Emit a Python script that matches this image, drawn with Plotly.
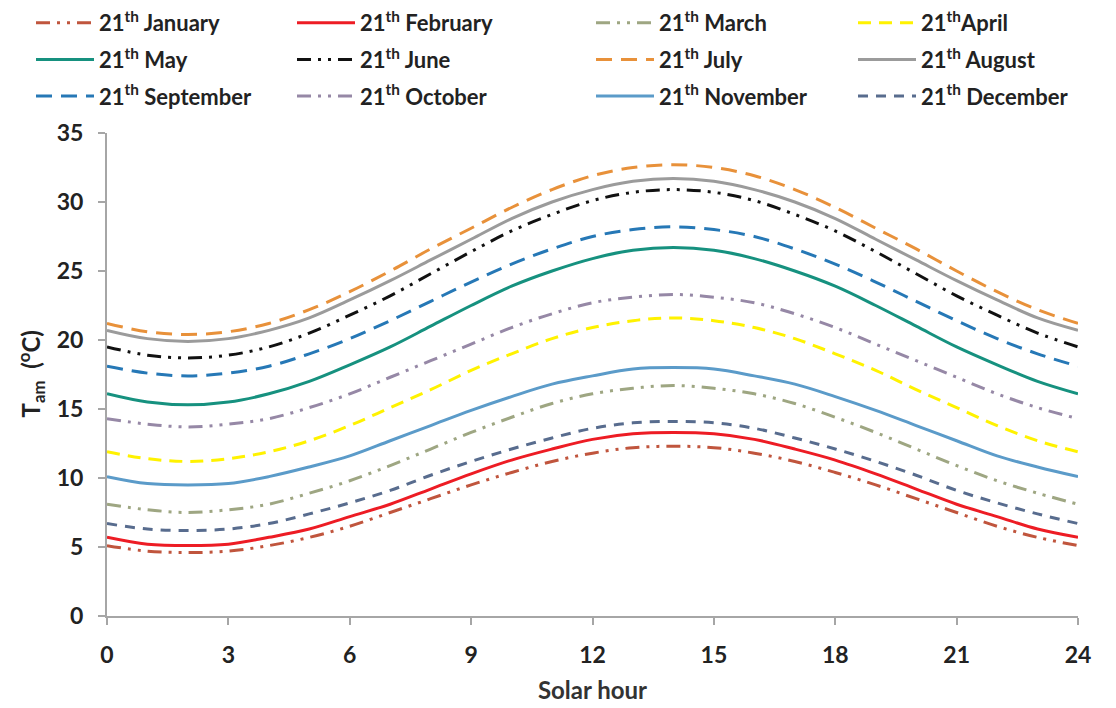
import plotly.graph_objects as go

hours = list(range(0, 25))

jan = [5.1,4.7,4.6,4.7,5.1,5.7,6.5,7.5,8.5,9.5,10.4,11.2,11.8,12.2,12.3,12.2,11.8,11.2,10.4,9.5,8.5,7.5,6.5,5.7,5.1]
feb = [5.7,5.2,5.1,5.2,5.7,6.3,7.2,8.1,9.2,10.3,11.3,12.1,12.8,13.2,13.3,13.2,12.8,12.1,11.3,10.3,9.2,8.1,7.2,6.3,5.7]
mar = [8.1,7.7,7.5,7.7,8.1,8.9,9.8,10.9,12.1,13.3,14.4,15.4,16.1,16.5,16.7,16.5,16.1,15.4,14.4,13.3,12.1,10.9,9.8,8.9,8.1]
apr = [11.9,11.4,11.2,11.4,11.9,12.7,13.8,15.1,16.4,17.8,19.0,20.1,20.9,21.4,21.6,21.4,20.9,20.1,19.0,17.8,16.4,15.1,13.8,12.7,11.9]
may = [16.1,15.5,15.3,15.5,16.1,17.0,18.2,19.5,21.0,22.5,23.9,25.0,25.9,26.5,26.7,26.5,25.9,25.0,23.9,22.5,21.0,19.5,18.2,17.0,16.1]
jun = [19.5,18.9,18.7,18.9,19.5,20.5,21.8,23.2,24.8,26.4,27.9,29.1,30.1,30.7,30.9,30.7,30.1,29.1,27.9,26.4,24.8,23.2,21.8,20.5,19.5]
jul = [21.2,20.6,20.4,20.6,21.2,22.2,23.5,25.0,26.6,28.1,29.6,30.9,31.9,32.5,32.7,32.5,31.9,30.9,29.6,28.1,26.6,25.0,23.5,22.2,21.2]
aug = [20.7,20.1,19.9,20.1,20.7,21.6,22.9,24.3,25.8,27.3,28.8,30.0,30.9,31.5,31.7,31.5,30.9,30.0,28.8,27.3,25.8,24.3,22.9,21.6,20.7]
sep = [18.1,17.6,17.4,17.6,18.1,19.0,20.1,21.4,22.8,24.2,25.5,26.6,27.5,28.0,28.2,28.0,27.5,26.6,25.5,24.2,22.8,21.4,20.1,19.0,18.1]
octo = [14.3,13.9,13.7,13.9,14.3,15.1,16.1,17.3,18.5,19.7,20.9,21.9,22.7,23.1,23.3,23.1,22.7,21.9,20.9,19.7,18.5,17.3,16.1,15.1,14.3]
nov = [10.1,9.6,9.5,9.6,10.1,10.8,11.6,12.7,13.8,14.9,15.9,16.8,17.4,17.9,18.0,17.9,17.4,16.8,15.9,14.9,13.8,12.7,11.6,10.8,10.1]
dec = [6.7,6.3,6.2,6.3,6.7,7.4,8.2,9.1,10.2,11.2,12.1,12.9,13.6,14.0,14.1,14.0,13.6,12.9,12.1,11.2,10.2,9.1,8.2,7.4,6.7]

names = ["21<sup>th</sup> January", "21<sup>th</sup> February", "21<sup>th</sup> March", "21<sup>th</sup>April",
         "21<sup>th</sup> May", "21<sup>th</sup> June", "21<sup>th</sup> July", "21<sup>th</sup> August",
         "21<sup>th</sup> September", "21<sup>th</sup> October", "21<sup>th</sup> November", "21<sup>th</sup> December"]
series = [jan, feb, mar, apr, may, jun, jul, aug, sep, octo, nov, dec]

ldd = "14px,7px,3px,7px,3px,7px"
colors = ["#C0553D", "#ED1C24", "#9EA682", "#FFF200",
          "#16917F", "#111111", "#E8913A", "#9B9B9B",
          "#2678B6", "#9688A6", "#5B9BC9", "#586C8E"]
dashes = [ldd, "solid", ldd, "13px,8px",
          "solid", ldd, "16px,9px", "solid",
          "16px,9px", ldd, "solid", "10px,8px"]

fig = go.Figure()
legend_ids = ["legend", "legend2", "legend3", "legend4"]
for i, (nm, ys) in enumerate(zip(names, series)):
    fig.add_trace(go.Scatter(
        x=hours, y=ys, mode="lines", name="<b>" + nm + "</b>",
        line=dict(color=colors[i], width=3, dash=dashes[i], shape="spline"),
        legend=legend_ids[i % 4], legendgroup=nm,
    ))

font_family = "Lato, 'Open Sans', sans-serif"
col_x = [31, 292, 591, 853]
common_leg = dict(
    orientation="v", yanchor="top", xanchor="left",
    xref="container", yref="container", y=1 - 2 / 708,
    font=dict(family=font_family, size=22, color="#222222"),
    bgcolor="rgba(0,0,0,0)", tracegroupgap=5, traceorder="grouped",
    itemwidth=58,
)
layout_legs = {}
for k, lid in enumerate(legend_ids):
    d = dict(common_leg)
    d["x"] = col_x[k] / 1116.0
    layout_legs[lid] = d

fig.update_layout(
    width=1116, height=708,
    margin=dict(l=107, r=38, t=133, b=92, autoexpand=False),
    plot_bgcolor="white", paper_bgcolor="white",
    font=dict(family=font_family, color="#222222"),
    showlegend=True,
    **layout_legs,
)
fig.update_xaxes(
    range=[0, 24], tickvals=[0, 3, 6, 9, 12, 15, 18, 21, 24],
    showline=True, linecolor="#A6A6A6", linewidth=2,
    ticks="outside", tickcolor="#A6A6A6", ticklen=7, tickwidth=2,
    ticklabelstandoff=10,
    showgrid=False, zeroline=False,
    tickfont=dict(family=font_family, size=23, color="#222222", weight="bold"),
    title=dict(text="<b>Solar hour</b>", font=dict(family=font_family, size=24, color="#333333"), standoff=16),
)
fig.update_yaxes(
    range=[0, 35], tickvals=[0, 5, 10, 15, 20, 25, 30, 35],
    showline=True, linecolor="#A6A6A6", linewidth=2,
    ticks="outside", tickcolor="#A6A6A6", ticklen=7, tickwidth=2,
    ticklabelstandoff=10,
    showgrid=False, zeroline=False,
    tickfont=dict(family=font_family, size=23, color="#222222", weight="bold"),
)
fig.add_annotation(
    text="<b>T<sub>am</sub>  (<sup>o</sup>C)</b>", textangle=-90,
    xref="paper", yref="paper", x=(30 - 107) / 971.0, y=0.5,
    xanchor="center", yanchor="middle", showarrow=False,
    font=dict(family=font_family, size=24, color="#222222"),
)

fig.write_html("out.html")
